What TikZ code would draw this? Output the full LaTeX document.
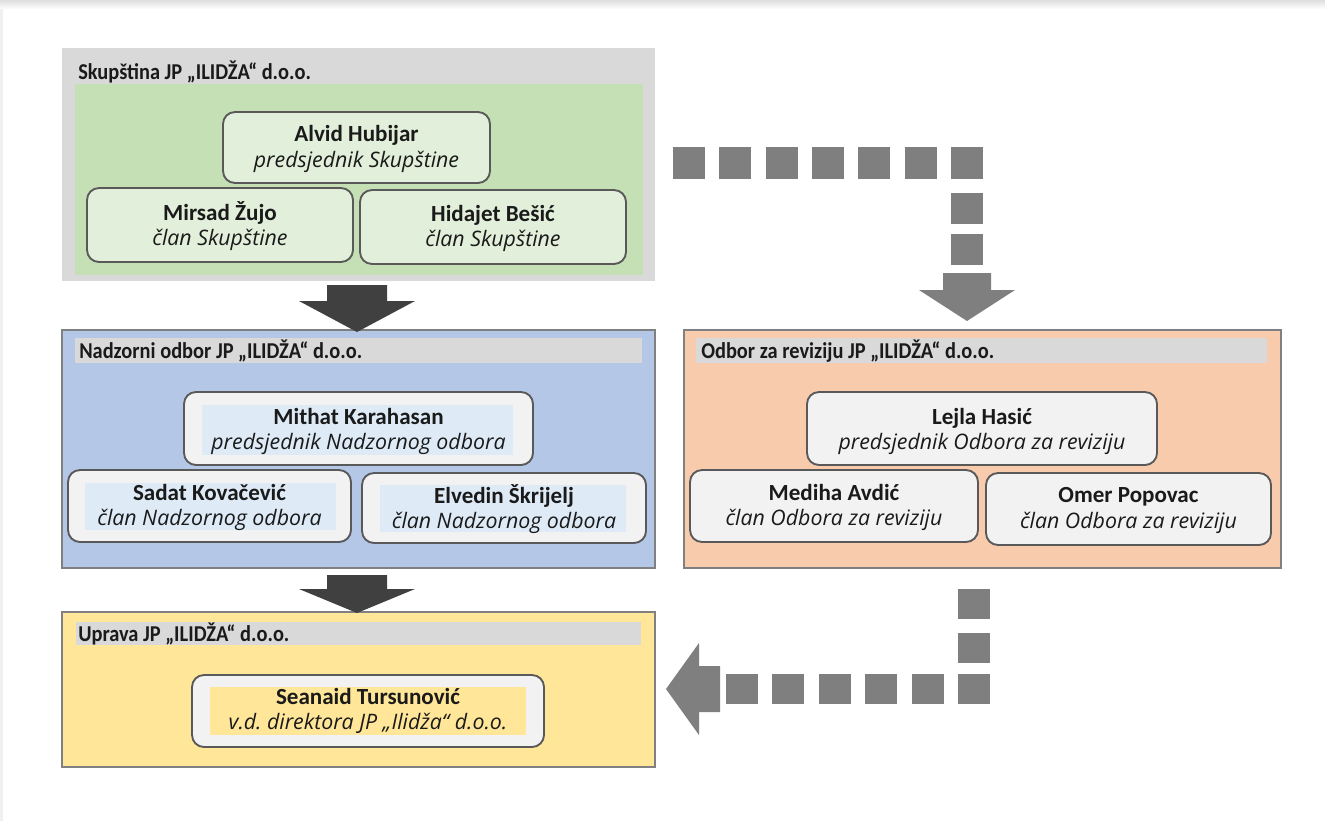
\documentclass[tikz,border=0pt]{standalone}
\usepackage{fontspec}
\setmainfont{Carlito}
\newfontfamily\rolefamily{Open Sans}
\newfontfamily\hdrfamily{Carlito}[FakeStretch=0.9]
\usetikzlibrary{fit}
\definecolor{grpgray}{HTML}{D9D9D9}
\definecolor{grpgreen}{HTML}{C5E0B4}
\definecolor{cardgreen}{HTML}{E2EFDA}
\definecolor{grpblue}{HTML}{B4C7E7}
\definecolor{innerblue}{HTML}{DEEBF7}
\definecolor{grporange}{HTML}{F8CBAD}
\definecolor{grpyellow}{HTML}{FFE699}
\definecolor{inneryellow}{HTML}{FFE699}
\definecolor{cardwhite}{HTML}{F2F2F2}
\definecolor{cardline}{HTML}{595959}
\definecolor{darkarrow}{HTML}{404040}
\definecolor{dashgray}{HTML}{7F7F7F}
\definecolor{txt}{HTML}{1A1A1A}
\definecolor{grpline}{HTML}{808080}
\newcommand\pname[1]{{\bfseries\fontsize{17.3}{19}\selectfont #1}}
\newcommand\prole[1]{{\rolefamily\itshape\fontsize{16}{19}\selectfont #1}}
\frenchspacing
\begin{document}
\begin{tikzpicture}[x=0.75pt, y=-0.75pt,
  grp/.style={inner sep=0pt, outer sep=0pt, draw=grpline, line width=0.8pt},
  plain/.style={inner sep=0pt, outer sep=0pt},
  card/.style={inner sep=0pt, outer sep=0pt, draw=cardline, line width=1.4pt, rounded corners=9pt, fill=cardwhite},
  hdr/.style={anchor=base west, inner sep=0pt, text=txt, font=\hdrfamily\bfseries\fontsize{17}{20}\selectfont},
  lbl/.style={align=center, inner sep=0pt, text=txt, font=\fontsize{17}{19}\selectfont},
  dkarrow/.style={fill=darkarrow},
  dashconn/.style={draw=dashgray, line width=24pt},
  dashhead/.style={fill=dashgray}
]
\useasboundingbox (0,0) rectangle (1325,821);
\fill[white] (0,0) rectangle (1325,821);
\shade[top color=black!13, bottom color=white] (0,0) rectangle (1325,9);
\fill[black!6] (0,9) rectangle (3,821);

% ---------- Skupstina ----------
\node[plain, fill=grpgray, fit={(62,48)(655,281)}] (skup) {};
\node[plain, fill=grpgreen, fit={(75,84)(643,275)}] (skupin) {};
\node[hdr] (skupt) at (78,79) {Skupština JP „ILIDŽA“ d.o.o.};
\node[card, fill=cardgreen, fit={(223,112)(490,183)}] (alvid) {};
\node[card, fill=cardgreen, fit={(87,188)(353,262)}] (mirsad) {};
\node[card, fill=cardgreen, fit={(360,190)(626,264)}] (hidajet) {};
\node[lbl] (alvidt) at ([yshift=-1]alvid.center) {\pname{Alvid Hubijar}\\\prole{predsjednik Skupštine}};
\node[lbl] (mirsadt) at ([yshift=-1]mirsad.center) {\pname{Mirsad Žujo}\\\prole{član Skupštine}};
\node[lbl] (hidajett) at ([yshift=-1]hidajet.center) {\pname{Hidajet Bešić}\\\prole{član Skupštine}};

% ---------- Nadzorni odbor ----------
\node[grp, fill=grpblue, fit={(62,330)(655,568)}] (nadz) {};
\node[plain, fill=grpgray, fit={(75,338)(642,363)}] (nadzbar) {};
\node[hdr] (nadzt) at (79,358) {Nadzorni odbor JP „ILIDŽA“ d.o.o.};
\node[card, fit={(184,392)(533,465)}] (mithat) {};
\node[plain, fill=innerblue, fit={(202,405)(513,455)}] (mithatin) {};
\node[card, fit={(68,470)(351,542)}] (sadat) {};
\node[plain, fill=innerblue, fit={(85,483)(336,530)}] (sadatin) {};
\node[card, fit={(362,473)(646,543)}] (elvedin) {};
\node[plain, fill=innerblue, fit={(380,485)(626,532)}] (elvedinin) {};
\node[lbl] (mithatt) at ([yshift=-2]mithat.center) {\pname{Mithat Karahasan}\\\prole{predsjednik Nadzornog odbora}};
\node[lbl] (sadatt) at ([yshift=-1]sadat.center) {\pname{Sadat Kovačević}\\\prole{član Nadzornog odbora}};
\node[lbl] (elvedint) at ([yshift=-1]elvedin.center) {\pname{Elvedin Škrijelj}\\\prole{član Nadzornog odbora}};

% ---------- Odbor za reviziju ----------
\node[grp, fill=grporange, fit={(684,330)(1281,568)}] (rev) {};
\node[plain, fill=grpgray, fit={(696,338)(1267,363)}] (revbar) {};
\node[hdr] (revt) at (701,358) {Odbor za reviziju JP „ILIDŽA“ d.o.o.};
\node[card, fit={(807,392)(1157,465)}] (lejla) {};
\node[card, fit={(690,470)(978,542)}] (mediha) {};
\node[card, fit={(986,473)(1271,545)}] (omer) {};
\node[lbl] (lejlat) at ([yshift=-2]lejla.center) {\pname{Lejla Hasić}\\\prole{predsjednik Odbora za reviziju}};
\node[lbl] (mediat) at ([yshift=-1]mediha.center) {\pname{Mediha Avdić}\\\prole{član Odbora za reviziju}};
\node[lbl] (omert) at ([yshift=-1]omer.center) {\pname{Omer Popovac}\\\prole{član Odbora za reviziju}};

% ---------- Uprava ----------
\node[grp, fill=grpyellow, fit={(62,612)(655,767)}] (upr) {};
\node[plain, fill=grpgray, fit={(76,622)(641,645)}] (uprbar) {};
\node[hdr] (uprt) at (78,641) {Uprava JP „ILIDŽA“ d.o.o.};
\node[card, fit={(192,675)(544,747)}] (seanaid) {};
\node[plain, fill=inneryellow, fit={(210,687)(526,735)}] (seanaidin) {};
\node[lbl] (seanaidt) at (seanaid) {\pname{Seanaid Tursunović}\\\prole{v.d. direktora JP „Ilidža“ d.o.o.}};

% ---------- dark block arrows ----------
\coordinate (a1) at (skup.south -| 357,0);
\coordinate (a2) at (357,575);
\fill[dkarrow, shift={(a1)}] (-30,4) -- (30,4) -- (30,20) -- (58,20) -- (0,51) -- (-58,20) -- (-30,20) -- cycle;
\fill[dkarrow, shift={(a2)}] (-30,0) -- (30,0) -- (30,14) -- (58,14) -- (0,38) -- (-58,14) -- (-30,14) -- cycle;

% ---------- dashed connectors ----------
\coordinate (dt0) at (673,163);
\coordinate (dt1) at (983,163);
\coordinate (dt2) at (967,193);
\coordinate (dt3) at (967,273);
\draw[dashconn, line width=23.6pt, dash pattern=on 24pt off 10.725pt] (dt0) -- (dt1);
\draw[dashconn, dash pattern=on 23.25pt off 7.5pt] (dt2) -- (dt3);
\fill[dashhead, shift={(dt3)}] (-24,0) -- (24,0) -- (24,17) -- (48,17) -- (0,48) -- (-48,17) -- (-24,17) -- cycle;

\coordinate (db0) at (974,589);
\coordinate (db1) at (974,674);
\coordinate (db2) at (990,689);
\coordinate (db3) at (720,689);
\draw[dashconn, dash pattern=on 22.5pt off 10.5pt] (db0) -- (db1);
\draw[dashconn, line width=22.5pt, dash pattern=on 24pt off 10.875pt] (db2) -- (db3);
\fill[dashhead, shift={(db3)}] (0,-23) -- (-21,-23) -- (-21,-46) -- (-54,0) -- (-21,46) -- (-21,23) -- (0,23) -- cycle;
\end{tikzpicture}
\end{document}
